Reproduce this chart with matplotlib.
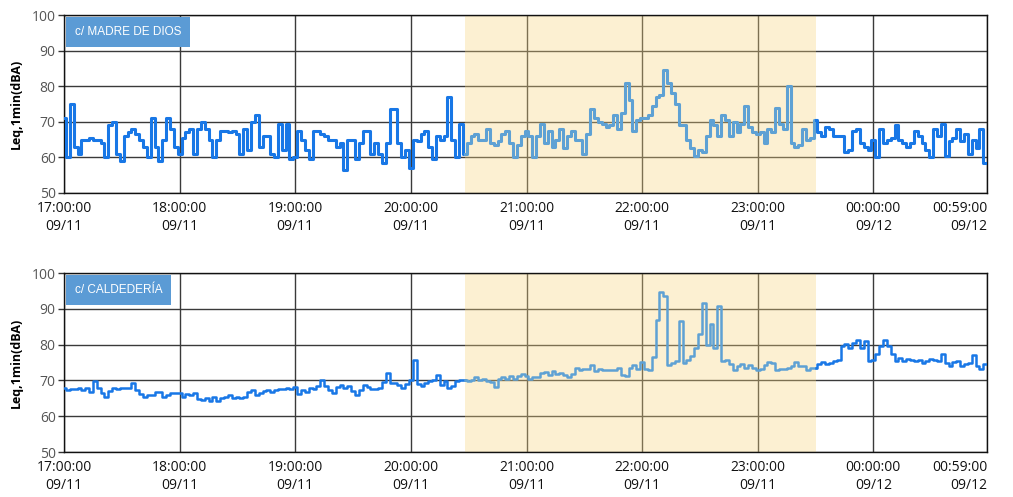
import numpy as np
import matplotlib
matplotlib.use("Agg")
import matplotlib.pyplot as plt

# 1-min Leq readings, sampled every 2 minutes from 17:00 (09/11)
STEP_MIN = 2

madre_de_dios = [
    71, 60, 75, 63, 61, 65, 65, 65.5, 65, 65, 64, 60, 69, 70, 61, 59, 66, 67, 68, 66.5,
    65, 63, 60, 71, 63, 59, 65, 71, 68, 63, 61, 65.5, 67, 68, 61, 68, 70, 68, 65, 60,
    65,
    67.5, 67.5, 67, 67.5, 66.5, 61, 68, 62, 70, 72, 63, 66, 66, 61, 60, 69.5, 62, 69.5, 59.5, 60,
    67.5, 65, 62, 59.5, 67.5, 67.5, 66.5, 66, 65, 65, 63, 64, 56.5, 65, 65, 59.5, 64, 67.5, 67.5, 61,
    64, 61, 58.5, 64, 73.5, 73.5, 64, 60, 62, 57, 65, 64.5, 66.5, 67.5, 63, 59.5, 66, 65, 66, 77,
    65, 60, 69.5, 61, 64, 66, 66.5, 65, 65, 68, 64, 63.5, 64.5, 66.5, 67.5, 64, 60, 63.5, 66, 67.5,
    66, 60, 66, 69.5, 64, 67.5, 63, 65, 68, 62.5, 66, 67.5, 65, 65, 61, 66.5, 73.5, 71, 70, 69.5,
    68.5, 69, 72, 68, 72.5, 81, 76, 67.5, 70.5, 71, 71, 72, 74.5, 77, 77.5, 84.5, 81, 78, 75, 69,
    69,
    65, 62.5, 60.5, 62, 61.5, 66, 70.5, 69, 66, 72, 70.5, 66, 70, 67, 69.5, 74.5, 68.5, 67, 66.5, 67,
    64, 68, 67, 74, 69.5, 68, 80, 64, 63, 63.5, 68, 65, 65.5, 70.5, 67, 66, 68.5, 68, 66, 66,
    66, 61.5, 62, 67.5, 68, 64, 63, 62, 65, 60, 68, 64, 65, 65.5, 69, 65, 64, 63, 64, 67.5,
    66, 64, 62, 60, 68, 66, 69.5, 60.5, 64.5, 65.5, 68, 64.5, 66.5, 61, 65, 62.5, 68, 58.5,
]

caldederia = [
    67.8, 67.4, 67.6, 67.5, 68, 67.4, 67.8, 66.9, 69.7, 68, 66.5, 65.5, 67, 67.8, 67.5, 68, 67.8, 67.8, 69.2, 67.2,
    66.2, 65.3, 66, 66, 66.9, 66.8, 65.5, 66, 66.6, 66.4, 66.4, 65.5, 66.2, 65.8, 66.5, 64.8, 64.6, 65, 64.3, 65.5,
    64.3,
    65, 65.5, 66, 65, 65.5, 65, 65.5, 66.9, 67.4, 66, 66.4, 67, 67.4, 66.9, 67.4, 67.7, 67.5, 67.8, 67.5, 68.3,
    66.2, 67.4, 66.9, 67.8, 67.6, 68.5, 70.2, 68.5, 67.2, 66.6, 68.3, 68.8, 68, 68.5, 67, 66, 67.4, 68.6, 68.3, 67.6,
    67.6, 68, 69.6, 72, 69.3, 69.2, 68.8, 68, 69, 70.2, 75.8, 69, 68.5, 69.3, 69.8, 70, 71.5, 68.8, 69.8, 67.8,
    68.5, 69.7, 70.2, 70.2, 69.7, 70, 71, 70.2, 70.5, 69.9, 69.5, 68.3, 70.5, 71, 70.4, 71.1, 70.4, 71.3, 71.8, 71.2,
    70.5, 71, 70.9, 72, 72.3, 71.6, 72.5, 71.8, 72, 71.6, 71, 71.8, 73.5, 73, 73.3, 73.3, 74.2, 72.5, 73.3, 73,
    72.9, 73, 72.8, 73.5, 71.6, 71.2, 73.6, 74.3, 73.3, 75.2, 73.3, 73, 76.5, 87, 94.6, 93.7, 74.4, 74.9, 75.5, 86.6,
    75,
    75.6, 76.8, 79, 82.9, 91.5, 80, 85.7, 79, 90.8, 75.4, 75.8, 74.5, 73, 74, 74.5, 73.5, 74.2, 73.5, 72.8, 73.2,
    74.2, 75.2, 74.8, 73, 73.3, 73.2, 73.5, 74, 75.2, 74, 73.9, 73, 73.5, 73.5, 74.6, 75.2, 74.5, 74.8, 75.3, 75.7,
    79.6, 80.3, 79, 80.5, 81.3, 79, 81, 75.4, 75.6, 77.5, 79.5, 81.2, 79.5, 77.5, 75.4, 76.3, 75.5, 76, 75.6, 75.4,
    75.6, 75, 75.5, 76, 75.6, 75.4, 77.5, 75, 74, 75.2, 75.3, 74, 74.5, 75, 77, 74, 73.3, 74.6,
]

panel_titles = ["c/ MADRE DE DIOS", "c/ CALDEDERÍA"]
tick_minutes = [0, 60, 120, 180, 240, 300, 360, 420, 479]
tick_labels = [
    "17:00:00\n09/11", "18:00:00\n09/11", "19:00:00\n09/11", "20:00:00\n09/11",
    "21:00:00\n09/11", "22:00:00\n09/11", "23:00:00\n09/11", "00:00:00\n09/12",
    "00:59:00\n09/12",
]
night_start, night_end = 208, 390   # shaded period (minutes after 17:00)

DARK = "#1877E6"
LIGHT = "#5EA1D4"
SHADE = "#F9D680"
BOX = "#5B9BD5"

plt.rcParams["font.family"] = ["Open Sans", "DejaVu Sans"]


def draw_panel(ax, values, title, lw):
    y = np.asarray(values, dtype=float)
    t = np.arange(len(y)) * STEP_MIN
    t = np.append(t, tick_minutes[-1])
    y = np.append(y, y[-1])

    i0 = np.searchsorted(t, night_start)
    i1 = np.searchsorted(t, night_end)
    kw = dict(drawstyle="steps-mid", lw=lw, zorder=3)
    ax.plot(t[:i0 + 1], y[:i0 + 1], color=DARK, **kw)
    ax.plot(t[i0:i1 + 1], y[i0:i1 + 1], color=LIGHT, **kw)
    ax.plot(t[i1:], y[i1:], color=DARK, **kw)

    ax.axvspan(night_start, night_end, color=SHADE, alpha=0.35, lw=0, zorder=1)

    ax.set_xlim(tick_minutes[0], tick_minutes[-1])
    ax.set_ylim(50, 100)
    ax.set_yticks([50, 60, 70, 80, 90, 100])
    ax.set_xticks(tick_minutes)
    ax.set_xticklabels(tick_labels, fontsize=10, linespacing=1.25)
    lbls = ax.get_xticklabels()
    lbls[-1].set_horizontalalignment("right")
    ax.tick_params(axis="x", length=0, pad=6, colors="#111111")
    ax.tick_params(axis="y", length=4, width=1, labelsize=10, labelcolor="#555555",
                   color="#333333", pad=2)
    ax.set_axisbelow(True)
    ax.grid(True, color="#3a3a3a", lw=1.0)
    for s in ax.spines.values():
        s.set_color("#111111")
        s.set_linewidth(1.0)
    ax.set_ylabel("Leq,1min(dBA)", fontsize=9, fontweight="bold", labelpad=6)

    ax.text(0.0115, 0.94, title, transform=ax.transAxes, ha="left", va="top",
            color="white", fontsize=8.5, zorder=5, family=["Liberation Sans", "DejaVu Sans"],
            bbox=dict(boxstyle="square,pad=0.75", fc=BOX, ec="none"))


fig = plt.figure(figsize=(10.13, 4.97), dpi=100)
ax_top = fig.add_axes([0.0632, 0.6117, 0.9112, 0.3581])
ax_bot = fig.add_axes([0.0632, 0.0905, 0.9112, 0.3602])

draw_panel(ax_top, madre_de_dios, panel_titles[0], 2.2)
draw_panel(ax_bot, caldederia, panel_titles[1], 1.8)

fig.savefig("out.png", dpi=100)
